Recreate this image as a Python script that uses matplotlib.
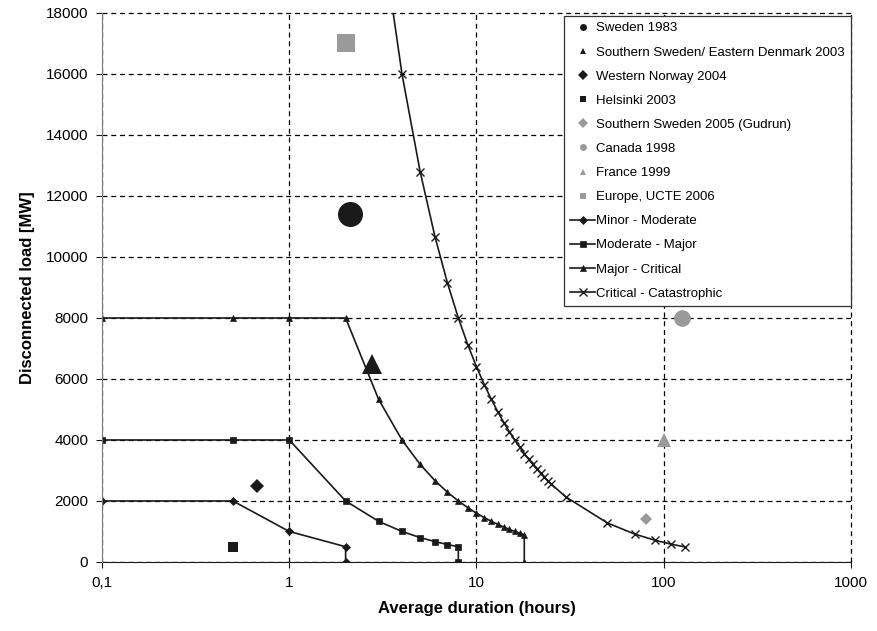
import matplotlib
matplotlib.use("Agg")
import matplotlib.pyplot as plt
from matplotlib.lines import Line2D
from matplotlib.ticker import FixedLocator, FixedFormatter

plt.rcParams["font.family"] = ["Liberation Sans", "DejaVu Sans"]

# ─── Threshold curves ─────────────────────────────────────────────────────────
minor_x = [0.1, 0.5, 1, 2, 2]
minor_y = [2000, 2000, 1000, 500, 0]

moderate_x = [0.1, 0.5, 1, 2, 3, 4, 5, 6, 7, 8, 8]
moderate_y = [4000, 4000, 4000, 2000, 1333, 1000, 800, 667, 571, 500, 0]

major_x = [0.1, 0.5, 1, 2, 3, 4, 5, 6, 7, 8, 9, 10, 11, 12, 13, 14, 15, 16, 17, 18, 18]
major_y = [8000, 8000, 8000, 8000, 5333, 4000, 3200, 2667, 2286, 2000, 1778, 1600,
           1455, 1333, 1231, 1143, 1067, 1000, 941, 889, 0]

critical_x = [3, 4, 5, 6, 7, 8, 9, 10, 11, 12, 13, 14, 15, 16, 17, 18, 19, 20, 21,
              22, 23, 24, 25, 30, 50, 70, 90, 110, 130]
critical_y = [21333, 16000, 12800, 10667, 9143, 8000, 7111, 6400, 5818, 5333, 4923,
              4571, 4267, 4000, 3765, 3556, 3368, 3200, 3048, 2909, 2783, 2667, 2560,
              2133, 1280, 914, 711, 582, 492]

# ─── Blackout events ──────────────────────────────────────────────────────────
event_names = ["Sweden 1983", "Southern Sweden/ Eastern Denmark 2003",
               "Western Norway 2004", "Helsinki 2003",
               "Southern Sweden 2005 (Gudrun)", "Canada 1998", "France 1999",
               "Europe, UCTE 2006"]
event_hours = [2.1, 2.75, 0.67, 0.5, 80, 125, 100, 2.0]
event_mw = [11400, 6500, 2500, 500, 1400, 8000, 4000, 17000]
event_marker = ["o", "^", "D", "s", "D", "o", "^", "s"]
event_size = [18, 14, 7, 7, 6, 12, 10, 13.5]
BLACK, GREY = "#1a1a1a", "#9a9a9a"
event_color = [BLACK] * 4 + [GREY] * 4

x_ticks = [0.1, 1, 10, 100, 1000]
x_labels = ["0,1", "1", "10", "100", "1000"]
y_ticks = list(range(0, 18001, 2000))

fig = plt.figure(figsize=(8.78, 6.31), dpi=100)
ax = fig.add_axes([0.1162, 0.1094, 0.8530, 0.8700])

handles = []
for name, hx, mw, mk, sz, c in zip(event_names, event_hours, event_mw,
                                   event_marker, event_size, event_color):
    ax.plot([hx], [mw], linestyle="none", marker=mk, markersize=sz,
            color=c, markeredgewidth=0, zorder=4, clip_on=False)
    handles.append(Line2D([], [], linestyle="none", marker=mk, markersize=5,
                          color=c, markeredgewidth=0, label=name))

curves = [(minor_x, minor_y, "D", 4.5, "Minor - Moderate"),
          (moderate_x, moderate_y, "s", 5, "Moderate - Major"),
          (major_x, major_y, "^", 5, "Major - Critical"),
          (critical_x, critical_y, "x", 6, "Critical - Catastrophic")]
for cx, cy, mk, sz, name in curves:
    ln, = ax.plot(cx, cy, color=BLACK, lw=1.2, marker=mk, markersize=sz,
                  markeredgewidth=1.0 if mk == "x" else 0.5, label=name,
                  zorder=3, clip_on=True)
    handles.append(ln)

ax.set_xscale("log")
ax.set_xlim(0.1, 1000)
ax.set_ylim(0, 18000)
ax.xaxis.set_major_locator(FixedLocator(x_ticks))
ax.xaxis.set_major_formatter(FixedFormatter(x_labels))
ax.xaxis.set_minor_locator(FixedLocator([]))
ax.set_yticks(y_ticks)
ax.set_yticklabels([str(v) for v in y_ticks])

ax.grid(True, color="black", linestyle=(0, (4, 3)), linewidth=0.9)
ax.set_axisbelow(True)
# let the outer dashed lines (1000 h, 18000 MW) act as the frame
ax.get_xgridlines()[-1].set_clip_on(False)
ax.get_ygridlines()[-1].set_clip_on(False)
for s in ["top", "right"]:
    ax.spines[s].set_visible(False)
ax.spines["left"].set_color("#777777")
ax.spines["left"].set_zorder(3)
ax.spines["bottom"].set_color(BLACK)
ax.tick_params(axis="both", labelsize=11, direction="out", length=4,
               color=BLACK, pad=6)

ax.set_xlabel("Average duration (hours)", fontsize=12, fontweight="bold", labelpad=8)
ax.set_ylabel("Disconnected load [MW]", fontsize=12, fontweight="bold", labelpad=8)

leg = ax.legend(handles=handles, loc="upper right", bbox_to_anchor=(1.0, 0.994),
                borderaxespad=0, fontsize=9.5, frameon=True, fancybox=False,
                edgecolor="#333333", framealpha=1, labelspacing=0.9,
                handlelength=1.9, handletextpad=0.1, borderpad=0.45)
leg.get_frame().set_linewidth(0.9)
leg.set_zorder(5)

fig.savefig("out.png", dpi=100)
